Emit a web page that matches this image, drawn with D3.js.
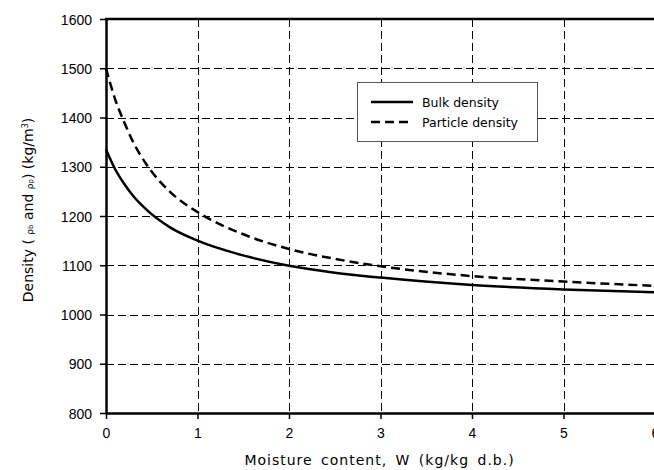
<!DOCTYPE html>
<html>
<head>
<meta charset="utf-8">
<script src="https://cdn.jsdelivr.net/npm/d3@7"></script>
<style>
  body { margin: 0; background: #fff; }
  svg { display: block; }
  .tick text { font-family: "Liberation Sans", Arial, sans-serif; font-size: 14px; fill: #000; }
  .title { font-family: "DejaVu Sans", sans-serif; font-size: 14px; fill: #000; }
  .legend text { font-family: "DejaVu Sans", sans-serif; font-size: 12.5px; fill: #000; }
</style>
</head>
<body>
<script>
// values
var moisture = [0, 0.1, 0.2, 0.3, 0.46, 0.7, 1, 1.5, 2, 2.5, 3, 4, 5, 6]
var bulkDensity = [1335, 1295, 1265, 1240, 1210, 1177, 1150, 1120, 1099, 1085, 1075, 1060, 1051, 1045]
var particleDensity = [1500, 1437, 1390, 1349, 1300, 1249, 1208, 1163, 1133, 1113, 1098, 1078, 1067, 1058]
var xTicks = [0, 1, 2, 3, 4, 5, 6]
var yTicks = [800, 900, 1000, 1100, 1200, 1300, 1400, 1500, 1600]
var seriesNames = ["Bulk density", "Particle density"]

var width = 654, height = 470
var plotLeft = 106, plotRight = 655, plotTop = 19, plotBottom = 413

var svg = d3.select("body").append("svg")
    .attr("width", width)
    .attr("height", height)

var x = d3.scaleLinear().domain([0, 6]).range([plotLeft, plotRight])
var y = d3.scaleLinear().domain([800, 1600]).range([plotBottom, plotTop])
var crisp = function(v){ return Math.round(v) + 0.5 }

//grid
var grid = svg.append("g")
grid.selectAll(".hgrid")
    .data(yTicks.slice(1, -1))
  .enter().append("line")
    .attr("x1", plotLeft).attr("x2", plotRight)
    .attr("y1", function(d){ return crisp(y(d)) }).attr("y2", function(d){ return crisp(y(d)) })
    .attr("stroke", "#000").attr("stroke-width", 1)
    .attr("stroke-dasharray", "8,4")
grid.selectAll(".vgrid")
    .data(xTicks.slice(1, -1))
  .enter().append("line")
    .attr("y1", plotTop).attr("y2", plotBottom)
    .attr("x1", function(d){ return crisp(x(d)) }).attr("x2", function(d){ return crisp(x(d)) })
    .attr("stroke", "#000").attr("stroke-width", 1)
    .attr("stroke-dasharray", "8,4")

//axes
var xAxis = svg.append("g")
    .attr("transform", "translate(0," + plotBottom + ")")
    .call(d3.axisBottom(x).tickValues(xTicks).tickFormat(d3.format("d")).tickSizeInner(6).tickSizeOuter(0).tickPadding(9))
var yAxis = svg.append("g")
    .attr("transform", "translate(" + plotLeft + ",0)")
    .call(d3.axisLeft(y).tickValues(yTicks).tickFormat(d3.format("d")).tickSizeInner(6).tickSizeOuter(0).tickPadding(8))
svg.selectAll(".domain").attr("stroke", "#000").attr("stroke-width", 2.5)
svg.selectAll(".tick line").attr("stroke", "#000").attr("stroke-width", 1.5)
yAxis.selectAll(".tick text").attr("dy", "0.36em")

svg.append("line")
    .attr("x1", plotLeft - 1).attr("x2", plotRight)
    .attr("y1", plotTop).attr("y2", plotTop)
    .attr("stroke", "#000").attr("stroke-width", 2.5)

//curves
var line = d3.line().curve(d3.curveMonotoneX)
    .x(function(d){ return x(d[0]) })
    .y(function(d){ return y(d[1]) })
var series = [
  { name: seriesNames[0], values: d3.zip(moisture, bulkDensity), dash: null },
  { name: seriesNames[1], values: d3.zip(moisture, particleDensity), dash: "9,5" }
]
svg.selectAll(".curve")
    .data(series)
  .enter().append("path")
    .attr("d", function(d){ return line(d.values) })
    .attr("fill", "none")
    .attr("stroke", "#000")
    .attr("stroke-width", 2.5)
    .attr("stroke-dasharray", function(d){ return d.dash })

//legend
var legend = svg.append("g").attr("class", "legend")
legend.append("rect")
    .attr("x", 357.5).attr("y", 82.5).attr("width", 180).attr("height", 59)
    .attr("fill", "#fff").attr("stroke", "#555").attr("stroke-width", 1)
var item = legend.selectAll(".item")
    .data(series)
  .enter().append("g")
    .attr("transform", function(d, i){ return "translate(371," + (102 + i * 20) + ")" })
item.append("line")
    .attr("x1", 0).attr("x2", 42)
    .attr("stroke", "#000").attr("stroke-width", 2.5)
    .attr("stroke-dasharray", function(d){ return d.dash })
item.append("text")
    .attr("x", 51).attr("y", 4.5)
    .text(function(d){ return d.name })

//axis titles
svg.append("text")
    .attr("class", "title")
    .attr("x", (plotLeft + plotRight) / 2 - 1).attr("y", 465)
    .attr("text-anchor", "middle")
    .attr("letter-spacing", "1px")
    .attr("word-spacing", "3px")
    .text("Moisture content, W (kg/kg d.b.)")

var yt = svg.append("text")
    .attr("class", "title")
    .attr("transform", "translate(33,210) rotate(-90)")
    .attr("text-anchor", "middle")
yt.append("tspan").text("Density ( ")
yt.append("tspan").attr("font-size", "9px").text("\u03c1")
yt.append("tspan").attr("font-size", "7px").text("b")
yt.append("tspan").text(" and  ")
yt.append("tspan").attr("font-size", "9px").text("\u03c1")
yt.append("tspan").attr("font-size", "7px").text("p")
yt.append("tspan").text(") (kg/m")
yt.append("tspan").attr("font-size", "8px").attr("dy", "-5").text("3")
yt.append("tspan").attr("dy", "5").text(")")
</script>
</body>
</html>
